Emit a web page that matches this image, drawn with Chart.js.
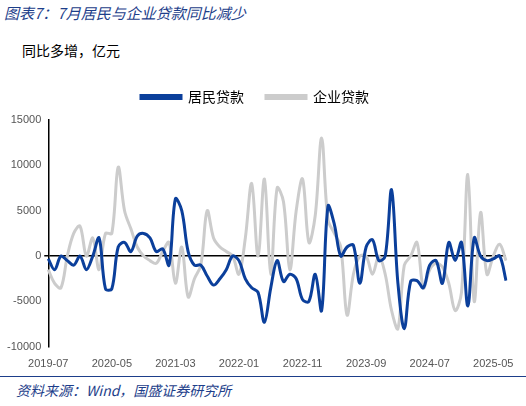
<!DOCTYPE html>
<html>
<head>
<meta charset="utf-8">
<script src="https://cdn.jsdelivr.net/npm/chart.js@4"></script>
<style>
  body { margin: 0; width: 526px; height: 406px; background: #fff; font-family: "Noto Sans CJK SC", sans-serif; position: relative; overflow: hidden; }
  #title { position: absolute; left: 4px; top: 2px; font-size: 15px; font-style: italic; color: #1d3e8a; }
  #unit { position: absolute; left: 22px; top: 40px; font-size: 14px; color: #000; }
  #wrap { position: absolute; left: 0; top: 68px; width: 526px; height: 306px; }
  #rule2 { position: absolute; left: 0; top: 376px; width: 526px; border-top: 1px solid #1d3e8a; }
  #src { position: absolute; left: 16px; top: 380px; font-size: 14px; font-style: italic; color: #1d3e8a; }
</style>
</head>
<body>
<div id="title">图表7：7月居民与企业贷款同比减少</div>
<div id="unit">同比多增，亿元</div>
<div id="wrap"><canvas id="myChart"></canvas></div>
<div id="rule2"></div>
<div id="src">资料来源：Wind，国盛证券研究所</div>
<script>
// months 2019-07 .. 2025-07
const months = [];
for (let y = 2019, m = 7; y < 2025 || (y === 2025 && m <= 7); m++) {
    if (m > 12) { m = 1; y++; }
    months.push(y + '-' + String(m).padStart(2, '0'));
}

const household = [
    -300, -1500, 0, -500, -1000, 0, -1500, 0, 2000, -3600,
    -3600, 1000, 1500, 500, 2200, 2500, 2000, 500, 800, -1000,
    6300, 5000, 500, -1000, -1000, -2200, -3200, -2500, -1500, 0,
    -500, -2500, -3500, -4000, -7300, -3500, -500, -2800, -2000, -2500,
    -4800, -5000, -2000, -6000, 5500, 3500, 0, 1000, 1200, -3000,
    1000, 1800, -500, 0, 7300, -3000, -8000, -2800, -2700, -3500,
    -1000, -500, -3000, 1500, -500, 1500, -5500, 2000, 0, -500,
    -300, 0, -2700
];

const corporate = [
    -1500, -3000, -3500, 0, 2500, 3300, 0, 2000, -1500, 2500,
    2500, 9800, 5000, 3000, 1000, 0, -500, -800, 500, 1500,
    -3000, 1000, -4500, -2500, -1000, 5000, 2000, 1000, 500, 0,
    -2000, 2000, 8000, 0, 8500, -2000, 7500, 6000, -1500, 5000,
    8500, 1500, 4500, 13000, 4000, 2500, 1000, -6500, -2000, 0,
    0, -2000, 0, -2000, -6000, -8000, -1000, 0, 1500, -3500,
    -1500, -800, -1200, -3000, -6000, -4000, 9000, -5000, 4800, -2000,
    0, 1300, -500
];

const yTicks = [-10000, -5000, 0, 5000, 10000, 15000];

const ctx = document.getElementById('myChart').getContext('2d');
const myChart = new Chart(ctx, {
    type: 'line',
    data: {
        labels: months,
        datasets: [
            { label: '居民贷款', data: household, borderColor: '#0b3f9b', backgroundColor: '#0b3f9b', borderWidth: 3, pointRadius: 0, tension: 0.35 },
            { label: '企业贷款', data: corporate, borderColor: '#cccccc', backgroundColor: '#cccccc', borderWidth: 3, pointRadius: 0, tension: 0.35 },
        ],
    },
    options: {
        responsive: true,
        maintainAspectRatio: false,
        animation: false,
        layout: { padding: { left: 4, right: 20, top: 0, bottom: 0 } },
        plugins: {
            legend: {
                labels: { boxWidth: 40, boxHeight: 3, padding: 22, color: '#000', font: { size: 14, family: 'Noto Sans CJK SC' } },
                onClick: null,
            },
            tooltip: { enabled: false },
        },
        scales: {
            x: {
                border: { display: false },
                grid: { display: false },
                ticks: {
                    autoSkip: false, maxRotation: 0, color: '#555', font: { size: 11 },
                    callback: (v, i) => (i % 10 === 0 ? months[i] : ''),
                },
            },
            y: {
                min: -10000, max: 15000,
                afterBuildTicks: axis => { axis.ticks = yTicks.map(v => ({ value: v })); },
                border: { display: true, color: '#000', width: 1.5 },
                grid: {
                    drawOnChartArea: true, drawTicks: true, tickLength: 4,
                    color: c => (c.tick && c.tick.value === 0 ? '#000' : 'rgba(0,0,0,0)'),
                    lineWidth: 1.5,
                },
                ticks: { color: '#555', font: { size: 11 }, callback: v => String(v) },
            },
        },
    },
    plugins: [{
        id: 'legendGap',
        beforeInit(chart) {
            const fit = chart.legend.fit;
            chart.legend.fit = function () { fit.bind(chart.legend)(); this.height += 6; };
        },
    }],
});
// widen spacing between legend items
myChart.legend.options.labels.generateLabels = undefined;
</script>
</body>
</html>
